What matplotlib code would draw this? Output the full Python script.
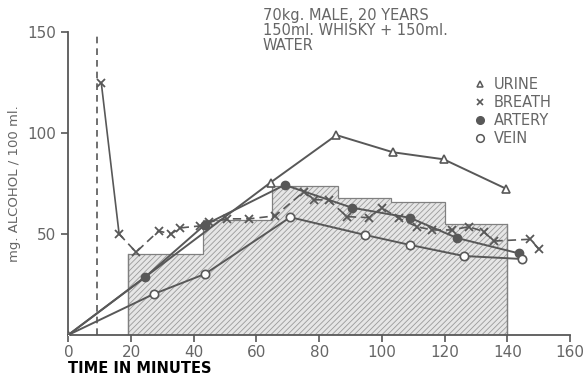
import matplotlib
matplotlib.use('Agg')
import matplotlib.pyplot as plt
from matplotlib.lines import Line2D

# values
urine_t = [0, 64.5, 85.5, 103.5, 119.7, 139.5]
urine_v = [0, 75.5, 99, 90.5, 87, 72.5]

breath_t = [10.5, 16.2, 21.6, 28.8, 32.7, 35.7, 42, 45, 50.5, 57.7, 66,
            75.2, 78.2, 83, 88.9, 95.8, 100, 105.4, 111.2, 116, 122.4,
            127.7, 132.5, 135.7, 147.4, 150]
breath_v = [125, 50, 41, 51.5, 50, 53, 54, 56, 57.5, 57.5, 59,
            71, 67, 66.8, 58.6, 58.1, 63, 57.8, 53.6, 52, 52,
            53.6, 51.2, 46.5, 47.4, 42.6]

artery_t = [0, 24.4, 43.5, 69, 90.5, 109, 124, 143.7]
artery_v = [0, 28.5, 54.5, 74.3, 63, 58, 48, 40.4]

vein_t = [0, 27.3, 43.6, 70.8, 94.7, 108.9, 126.1, 144.8]
vein_v = [0, 20.3, 30.2, 58.3, 49.5, 44.6, 39.1, 37.6]

# stepped block (intake period)
block_edges = [19, 43, 65, 86, 103, 120, 140]
block_heights = [40, 57, 74, 68, 66, 55]

drink_time = 9

col = '#585858'
txt = '#666666'

plt.rcParams['hatch.linewidth'] = 0.6

fig = plt.figure(figsize=(5.84, 3.78), dpi=100)
ax = fig.add_axes([0.117, 0.114, 0.859, 0.801])

ax.stairs(block_heights, block_edges, baseline=0, fill=True,
          facecolor='#e6e6e6', edgecolor='#9a9a9a', hatch='//////',
          linewidth=0, zorder=1)
ax.stairs(block_heights, block_edges, baseline=0, fill=False,
          edgecolor='#808080', linewidth=0.9, zorder=1)
ax.plot([block_edges[0], block_edges[0]], [0, block_heights[0]],
        color='#808080', lw=0.9, zorder=1)
ax.plot([block_edges[-1], block_edges[-1]], [0, block_heights[-1]],
        color='#808080', lw=0.9, zorder=1)

ax.plot([drink_time, drink_time], [0, 148], color=col, lw=1.2,
        linestyle=(0, (4, 3)), zorder=2)

ax.plot(urine_t, urine_v, color=col, lw=1.4, marker='^', ms=5.5,
        mfc='white', mec=col, mew=1.2, zorder=3)
ax.plot(breath_t[:2], breath_v[:2], color=col, lw=1.2, zorder=3)
ax.plot(breath_t[1:], breath_v[1:], color=col, lw=1.2,
        linestyle=(0, (5, 3)), zorder=3)
ax.plot(breath_t, breath_v, linestyle='none', marker='x', ms=5.5,
        mec=col, mew=1.3, zorder=4)
ax.plot(artery_t, artery_v, color=col, lw=1.4, zorder=3)
ax.plot(artery_t[1:], artery_v[1:], linestyle='none', marker='o', ms=6,
        mfc=col, mec=col, zorder=4)
ax.plot(vein_t, vein_v, color=col, lw=1.4, zorder=3)
ax.plot(vein_t[1:], vein_v[1:], linestyle='none', marker='o', ms=6,
        mfc='white', mec=col, mew=1.2, zorder=4)

ax.set_xlim(0, 160)
ax.set_ylim(0, 150)
for s in ['top', 'right']:
    ax.spines[s].set_visible(False)
for s in ['left', 'bottom']:
    ax.spines[s].set_color(col)
    ax.spines[s].set_linewidth(1.3)
ax.set_xticks(range(0, 161, 20))
ax.set_yticks([50, 100, 150])
ax.tick_params(colors=col, labelcolor=txt, labelsize=11, length=5,
               width=1.2, direction='out')
ax.tick_params(axis='x', pad=2)

ax.set_ylabel('mg. ALCOHOL / 100 ml.', color=txt, fontsize=9.5, labelpad=5)
ax.text(0, -0.11, 'TIME IN MINUTES', transform=ax.transAxes, ha='left',
        va='center', fontsize=10.5, fontweight='bold', color='black')

ax.text(62, 162, '70kg. MALE, 20 YEARS\n150ml. WHISKY + 150ml.\nWATER',
        ha='left', va='top', fontsize=10.5, color=txt, linespacing=1.0,
        clip_on=False)

handles = [
    Line2D([], [], linestyle='none', marker='^', ms=5, mfc='white', mec=col, mew=1.1),
    Line2D([], [], linestyle='none', marker='x', ms=5, mec=col, mew=1.2),
    Line2D([], [], linestyle='none', marker='o', ms=5.5, mfc=col, mec=col),
    Line2D([], [], linestyle='none', marker='o', ms=5.5, mfc='white', mec=col, mew=1.1),
]
leg = ax.legend(handles, ['URINE', 'BREATH', 'ARTERY', 'VEIN'],
                loc='upper left', bbox_to_anchor=(0.795, 0.875),
                frameon=False, fontsize=10.5, handlelength=0.8,
                handletextpad=0.5, labelspacing=0.2, borderpad=0)
for t in leg.get_texts():
    t.set_color(txt)

fig.savefig('out.png', dpi=100)
